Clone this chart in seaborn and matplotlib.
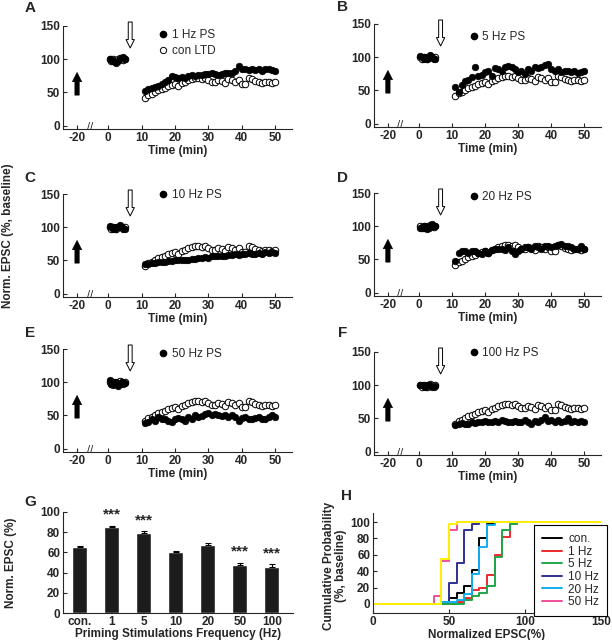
import numpy as np
import pandas as pd
import matplotlib
matplotlib.use('Agg')
import matplotlib.pyplot as plt
import matplotlib.transforms as mtransforms
from matplotlib.lines import Line2D
import seaborn as sns

# ---- time course data (Norm. EPSC, % of baseline) ----
base_t = [0.5, 1.0, 1.5, 2.0, 2.5, 3.0, 3.5, 4.0, 4.5, 5.0]
post_t = list(range(11, 51))

ctrl_base = [100, 98, 101, 99, 97, 100, 102, 101, 99, 100]
ctrl_post = [42, 46, 48, 50, 53, 55, 57, 59, 61, 62, 60, 64, 66, 68, 70, 72, 71, 70, 72, 68,
             66, 65, 68, 67, 64, 70, 68, 66, 68, 63, 62, 72, 70, 67, 66, 64, 65, 66, 64, 65]

base_1hz = [101, 99, 98, 96, 95, 97, 100, 102, 103, 101]
post_1hz = [52, 55, 56, 58, 60, 62, 65, 68, 75, 73, 72, 74, 72, 75, 76, 75, 77, 76, 78, 78,
            80, 78, 77, 78, 80, 80, 79, 82, 90, 86, 85, 84, 85, 84, 86, 83, 86, 85, 84, 83]

base_5hz = [102, 100, 98, 101, 97, 99, 103, 100, 98, 97]
post_5hz = [55, 48, 58, 64, 65, 70, 85, 72, 74, 78, 80, 72, 84, 82, 80, 85, 87, 86, 82, 78,
            80, 75, 82, 80, 85, 84, 86, 88, 90, 82, 80, 82, 78, 80, 79, 78, 80, 76, 78, 79]

base_10hz = [102, 100, 98, 97, 100, 101, 103, 100, 98, 97]
post_10hz = [44, 45, 46, 46, 47, 48, 48, 49, 49, 50, 50, 50, 51, 51, 52, 52, 53, 54, 55, 54,
             56, 56, 57, 57, 56, 58, 58, 59, 58, 59, 60, 61, 59, 60, 61, 60, 62, 61, 62, 61]

base_20hz = [97, 99, 98, 100, 96, 98, 101, 104, 101, 100]
post_20hz = [48, 60, 62, 63, 60, 63, 62, 60, 58, 62, 60, 64, 66, 65, 66, 64, 68, 62, 58, 63,
             66, 68, 68, 66, 70, 68, 66, 70, 70, 68, 70, 72, 74, 70, 70, 68, 66, 65, 70, 65]

base_50hz = [103, 98, 96, 100, 101, 95, 98, 100, 97, 99]
post_50hz = [38, 40, 45, 42, 48, 45, 44, 42, 40, 44, 46, 45, 42, 48, 44, 50, 48, 49, 52, 54,
             50, 52, 50, 49, 51, 48, 50, 48, 42, 46, 48, 45, 44, 46, 47, 44, 45, 48, 50, 47]

base_100hz = [101, 100, 99, 98, 101, 100, 99, 98, 97, 99]
post_100hz = [40, 42, 43, 41, 42, 44, 43, 45, 44, 46, 45, 44, 46, 45, 47, 46, 44, 45, 46, 44,
              45, 47, 44, 42, 46, 45, 48, 52, 46, 48, 45, 47, 44, 46, 50, 45, 46, 44, 46, 45]

panel_letters = ['A', 'B', 'C', 'D', 'E', 'F']
panel_names = ['1 Hz PS', '5 Hz PS', '10 Hz PS', '20 Hz PS', '50 Hz PS', '100 Hz PS']
panel_base = [base_1hz, base_5hz, base_10hz, base_20hz, base_50hz, base_100hz]
panel_post = [post_1hz, post_5hz, post_10hz, post_20hz, post_50hz, post_100hz]

# ---- bar chart (G) ----
bar_labels = ['con.', '1', '5', '10', '20', '50', '100']
bar_values = [65, 85, 79, 60, 67, 48, 46]
bar_errors = [1.5, 1.5, 2.0, 1.5, 2.0, 1.5, 2.5]
bar_stars = ['', '***', '***', '', '', '***', '***']

# ---- cumulative probability (H) ----
cdf_x = [0, 40, 45, 50, 55, 60, 65, 70, 75, 80, 85, 90, 95, 150]
cdf_series = {
    'con.':   [0, 0, 0, 7, 13, 22, 42, 80, 98, 100, 100, 100, 100, 100],
    '1 Hz':   [0, 0, 0, 0, 2, 7, 17, 20, 35, 60, 82, 97, 100, 100],
    '5 Hz':   [0, 0, 0, 0, 0, 5, 10, 13, 22, 57, 90, 98, 100, 100],
    '10 Hz':  [0, 0, 3, 25, 50, 90, 97, 100, 100, 100, 100, 100, 100, 100],
    '20 Hz':  [0, 0, 2, 3, 5, 12, 37, 70, 96, 100, 100, 100, 100, 100],
    '50 Hz':  [0, 10, 52, 90, 100, 100, 100, 100, 100, 100, 100, 100, 100, 100],
    '100 Hz': [0, 0, 55, 97, 100, 100, 100, 100, 100, 100, 100, 100, 100, 100],
}
cdf_colors = ['black', '#ee2a2a', '#1fa64a', '#2e3192', '#12aef0', '#f0509a', '#fff200']

sns.set_style('ticks')
plt.rcParams['font.family'] = ['Liberation Sans', 'DejaVu Sans']
plt.rcParams['font.size'] = 8.5
plt.rcParams['axes.linewidth'] = 0.8

W, H = 612, 640
fig = plt.figure(figsize=(W / 100, H / 100), dpi=100)


def rect(left, top, w, h):
    return [left / W, 1 - (top + h) / H, w / W, h / H]


def style_ticks(ax):
    ax.tick_params(direction='in', length=3, width=0.8, pad=2, labelsize=8.5)
    for lab in ax.get_xticklabels() + ax.get_yticklabels():
        lab.set_fontweight('bold')


# layout of the six time-course panels: (left, top, width, height) in px
tc_rects = [(63, 26, 229, 103), (374, 24, 227, 103),
            (63, 194, 229, 103), (374, 193, 227, 103),
            (63, 349, 229, 103), (374, 352, 227, 103)]
legend_y = [136, 130, 148, 144, 143, 148]
letter_pos = [(30, 8), (343, 7), (30, 178), (343, 178), (30, 333), (343, 333)]
TICK_M20 = -9.3
arrow_style = 'simple,head_width=0.6,head_length=0.6,tail_width=0.28'

for i in range(6):
    ax = fig.add_axes(rect(*tc_rects[i]))
    sns.scatterplot(x=base_t, y=ctrl_base, ax=ax, marker='o', s=22, facecolor='white',
                    edgecolor='black', linewidth=0.7, zorder=3)
    sns.scatterplot(x=post_t, y=ctrl_post, ax=ax, marker='o', s=22, facecolor='white',
                    edgecolor='black', linewidth=0.7, zorder=3)
    sns.scatterplot(x=base_t, y=panel_base[i], ax=ax, marker='o', s=22, color='black',
                    edgecolor='black', linewidth=0.5, zorder=4)
    sns.scatterplot(x=post_t, y=panel_post[i], ax=ax, marker='o', s=22, color='black',
                    edgecolor='black', linewidth=0.5, zorder=4)

    ax.set_xlim(-13.5, 55)
    ax.set_ylim(-5, 150)
    ax.set_xticks([TICK_M20, 0, 10, 20, 30, 40, 50])
    ax.set_xticklabels(['-20', '0', '10', '20', '30', '40', '50'])
    ax.set_yticks([0, 50, 100, 150])
    sns.despine(ax=ax)
    style_ticks(ax)
    ax.set_xlabel('Time (min)', fontsize=8.5, fontweight='bold', labelpad=1)
    ax.set_ylabel('')

    # axis break mark
    trans = mtransforms.blended_transform_factory(ax.transData, ax.transAxes)
    ax.text(-5.5, 0.02, '//', transform=trans, ha='center', va='center', fontsize=8)

    # stimulation arrows
    ax.annotate('', xy=(TICK_M20, 80), xytext=(TICK_M20, 46),
                arrowprops=dict(arrowstyle=arrow_style, fc='black', ec='black', lw=0.5,
                                shrinkA=0, shrinkB=0, mutation_scale=11),
                annotation_clip=False)
    ax.annotate('', xy=(6.6, 117), xytext=(6.6, 156),
                arrowprops=dict(arrowstyle=arrow_style, fc='white', ec='black', lw=0.7,
                                shrinkA=0, shrinkB=0, mutation_scale=10),
                annotation_clip=False)

    # legend
    handles = [Line2D([], [], ls='none', marker='o', ms=4.5, mfc='black', mec='black')]
    labels = [panel_names[i]]
    if i == 0:
        handles.append(Line2D([], [], ls='none', marker='o', ms=4.5, mfc='white', mec='black', mew=0.7))
        labels.append('con LTD')
    top_frac = (legend_y[i] + 9 + 5) / 155
    ax.legend(handles, labels, loc='upper left', bbox_to_anchor=(0.418, top_frac), frameon=False,
              borderpad=0, borderaxespad=0, handlelength=0.8, handletextpad=0.35,
              labelspacing=0.3, fontsize=8.5)

    fig.text(letter_pos[i][0] / W, 1 - letter_pos[i][1] / H, panel_letters[i],
             fontsize=11, fontweight='bold', ha='center', va='center')

fig.text(8 / W, 1 - 236 / H, 'Norm. EPSC (%, baseline)', rotation=90, fontsize=8.5,
         fontweight='bold', ha='center', va='center')

# ---- G: bar chart ----
axg = fig.add_axes(rect(63, 512, 230, 101))
bar_df = pd.DataFrame({'freq': bar_labels, 'epsc': bar_values})
sns.barplot(data=bar_df, x='freq', y='epsc', order=bar_labels, color='#1c1c1c',
            width=0.47, saturation=1, errorbar=None, ax=axg)
pos = np.arange(len(bar_labels))
axg.errorbar(pos, bar_values, yerr=[np.zeros(len(bar_errors)), bar_errors], fmt='none',
             ecolor='black', elinewidth=0.8, capsize=2, capthick=0.8)
for p, v, e, s in zip(pos, bar_values, bar_errors, bar_stars):
    if s:
        axg.text(p, v + e + 4, s, ha='center', va='bottom', fontsize=11, fontweight='bold')
axg.set_xlim(-0.53, 6.66)
axg.set_ylim(0, 100)
axg.set_yticks([0, 20, 40, 60, 80, 100])
sns.despine(ax=axg)
style_ticks(axg)
axg.tick_params(axis='x', length=0)
axg.set_xlabel('Priming Stimulations Frequency (Hz)', fontsize=8.5, fontweight='bold', labelpad=0)
axg.set_ylabel('Norm. EPSC (%)', fontsize=8.5, fontweight='bold')
axg.yaxis.set_label_coords((17 - 63) / 230, 0.5)
fig.text(30 / W, 1 - 502 / H, 'G', fontsize=11, fontweight='bold', ha='center', va='center')

# ---- H: cumulative probability ----
axh = fig.add_axes(rect(373, 513, 228, 100))
for (name, vals), col in zip(cdf_series.items(), cdf_colors):
    sns.lineplot(x=cdf_x, y=vals, ax=axh, color=col, lw=1.4, drawstyle='steps-post',
                 label=name, legend=False)
axh.set_xlim(0, 150)
axh.set_ylim(-11, 111)
axh.set_xticks([0, 50, 100, 150])
axh.set_yticks([0, 20, 40, 60, 80, 100])
sns.despine(ax=axh)
style_ticks(axh)
axh.set_xlabel('Normalized EPSC(%)', fontsize=8.5, fontweight='bold', labelpad=1)
axh.set_ylabel('Cumulative Probability\n(%, baseline)', fontsize=8.5, fontweight='bold',
               linespacing=1.0)
axh.yaxis.set_label_coords((347 - 373) / 228, 0.47)
hh, hl = axh.get_legend_handles_labels()
leg = axh.legend(hh[:6], hl[:6], loc='upper left', bbox_to_anchor=(0.706, 0.88), frameon=True,
                 fancybox=False, edgecolor='black', framealpha=1, borderpad=0.7,
                 borderaxespad=0, handlelength=1.7, handletextpad=0.5, labelspacing=0.05,
                 fontsize=8.5)
leg.get_frame().set_linewidth(0.8)
fig.text(347 / W, 1 - 496 / H, 'H', fontsize=11, fontweight='bold', ha='center', va='center')

fig.savefig('out.png', dpi=100)
